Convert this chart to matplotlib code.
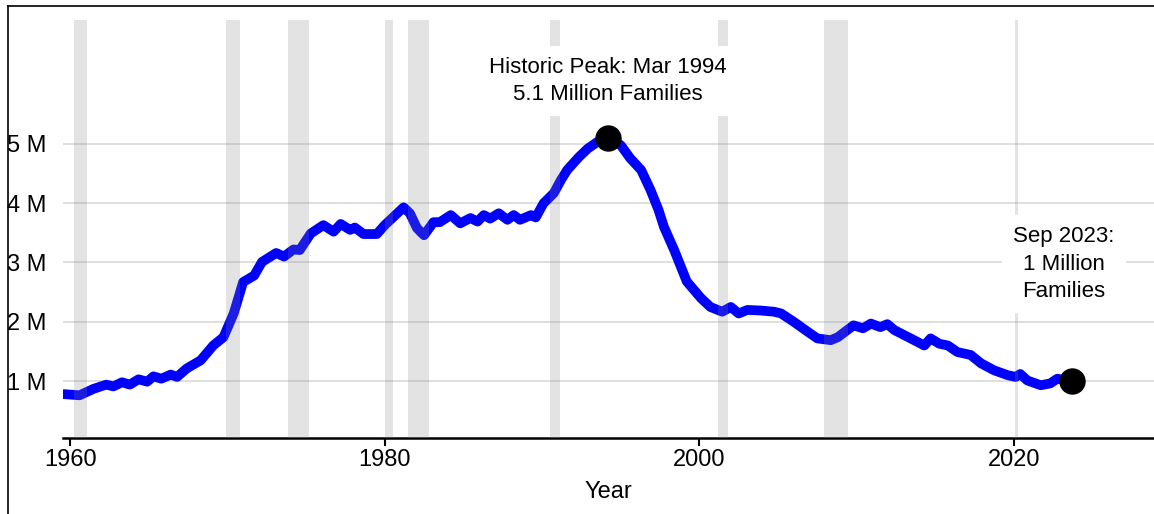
import numpy as np
import matplotlib
matplotlib.use('Agg')
import matplotlib.pyplot as plt
from matplotlib.lines import Line2D

plt.rcParams['font.family'] = ['Liberation Sans', 'DejaVu Sans']

# AFDC/TANF families, millions
years = [1959.6, 1960.6, 1961.5, 1962.3, 1962.75, 1963.3, 1963.8, 1964.35, 1964.9,
         1965.3, 1965.8, 1966.4, 1966.8, 1967.4, 1968.3, 1969.1, 1969.75, 1970.4,
         1971.0, 1971.7, 1972.2, 1973.1, 1973.6, 1974.2, 1974.6, 1975.3, 1976.1,
         1976.75, 1977.2, 1977.8, 1978.1, 1978.65, 1979.5, 1980.0, 1980.8, 1981.2,
         1981.6, 1982.05, 1982.5, 1983.1, 1983.5, 1984.2, 1984.8, 1985.45, 1985.9,
         1986.3, 1986.7, 1987.25, 1987.8, 1988.2, 1988.6, 1989.3, 1989.6, 1990.1,
         1990.75, 1991.2, 1991.6, 1992.35, 1992.9, 1993.5, 1994.17, 1995.0, 1995.6,
         1996.3, 1996.9, 1997.4, 1997.75, 1998.4, 1999.2, 2000.1, 2000.7, 2001.45,
         2002.0, 2002.5, 2003.05, 2003.9, 2004.75, 2005.2, 2006.0, 2006.9, 2007.5,
         2008.35, 2008.8, 2009.4, 2009.8, 2010.4, 2010.9, 2011.5, 2011.95, 2012.4,
         2013.65, 2014.3, 2014.7, 2015.25, 2015.8, 2016.4, 2017.25, 2017.9, 2018.75,
         2019.6, 2020.1, 2020.4, 2020.85, 2021.7, 2022.3, 2022.75, 2023.67]
families = [0.78, 0.76, 0.87, 0.94, 0.91, 0.98, 0.94, 1.03, 0.99,
            1.08, 1.04, 1.11, 1.07, 1.21, 1.35, 1.60, 1.74, 2.14,
            2.67, 2.78, 3.01, 3.16, 3.10, 3.22, 3.21, 3.49, 3.63,
            3.52, 3.65, 3.55, 3.59, 3.48, 3.48, 3.63, 3.83, 3.93,
            3.83, 3.58, 3.46, 3.68, 3.68, 3.80, 3.66, 3.75, 3.69,
            3.80, 3.74, 3.83, 3.72, 3.80, 3.72, 3.80, 3.76, 4.00,
            4.17, 4.39, 4.56, 4.78, 4.92, 5.03, 5.10, 4.98, 4.76,
            4.56, 4.22, 3.89, 3.60, 3.21, 2.68, 2.40, 2.25, 2.17,
            2.25, 2.14, 2.20, 2.19, 2.17, 2.14, 2.00, 1.83, 1.72,
            1.69, 1.74, 1.86, 1.94, 1.89, 1.97, 1.91, 1.96, 1.86,
            1.69, 1.60, 1.72, 1.63, 1.60, 1.49, 1.44, 1.30, 1.18,
            1.10, 1.07, 1.12, 1.01, 0.93, 0.96, 1.04, 1.00]

# NBER recessions (start, end)
recessions = [(1960.25, 1961.08), (1969.92, 1970.83), (1973.83, 1975.17),
              (1980.0, 1980.5), (1981.5, 1982.83), (1990.5, 1991.17),
              (2001.17, 2001.83), (2007.92, 2009.42), (2020.08, 2020.25)]

peak_year, peak_val = 1994.17, 5.1
last_year, last_val = 2023.67, 1.0

fig = plt.figure(figsize=(11.54, 5.14), dpi=100)
ax = fig.add_axes([63 / 1154, 76 / 514, 1091 / 1154, 418 / 514])

ax.plot(years, families, color='#0000ff', lw=7, solid_joinstyle='round',
        solid_capstyle='round', zorder=2)

for start, end in recessions:
    ax.axvspan(start, end, color='#808080', alpha=0.22, lw=0, zorder=3)

ax.plot([peak_year, last_year], [peak_val, last_val], 'o', color='black',
        markersize=18, zorder=4)

box = dict(boxstyle='square,pad=0.5', fc='white', ec='none')
ax.text(peak_year, 6.06, "Historic Peak: Mar 1994\n5.1 Million Families",
        ha='center', va='center', fontsize=16, linespacing=1.4, bbox=box, zorder=5)
ax.text(2023.17, 2.97, "Sep 2023:\n1 Million\nFamilies",
        ha='center', va='center', fontsize=16, linespacing=1.4, bbox=box, zorder=5)

ax.set_xlim(1959.55, 2028.9)
ax.set_ylim(0.04, 7.09)
ax.set_xticks([1960, 1980, 2000, 2020])
ax.set_yticks([1, 2, 3, 4, 5])
ax.set_yticklabels(['1 M', '2 M', '3 M', '4 M', '5 M'])
ax.yaxis.grid(True, color='#dcdcdc', lw=1.3, zorder=0)
ax.set_axisbelow(True)

for side in ['left', 'right', 'top']:
    ax.spines[side].set_visible(False)
ax.spines['bottom'].set_linewidth(1.8)
ax.tick_params(axis='y', length=0, pad=12, labelsize=17)
ax.tick_params(axis='x', length=6, width=1.5, pad=2, labelsize=17)
ax.set_xlabel("Year", fontsize=17, labelpad=7)

# frame around the image
fig.add_artist(Line2D([8 / 1154, 8 / 1154], [0, 1 - 6 / 514], color='black', lw=1.2))
fig.add_artist(Line2D([8 / 1154, 1], [1 - 6 / 514, 1 - 6 / 514], color='black', lw=1.2))

plt.savefig('out.png', dpi=100)
